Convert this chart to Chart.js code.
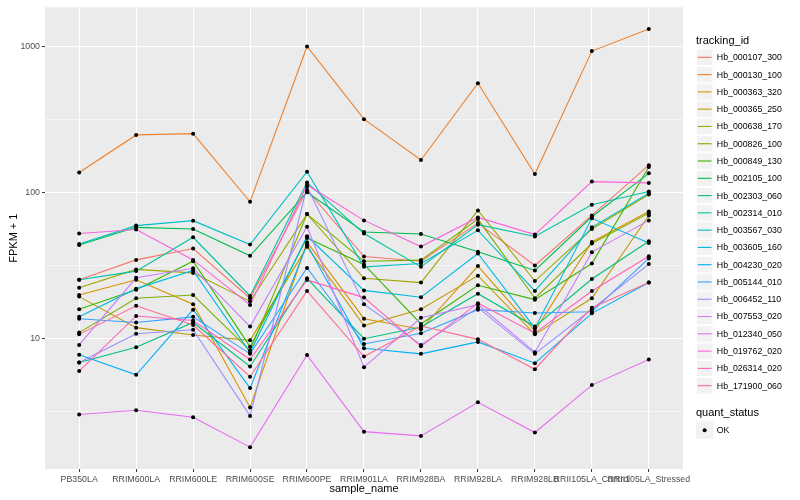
<!DOCTYPE html>
<html>
<head>
<meta charset="utf-8">
<script src="https://cdn.jsdelivr.net/npm/chart.js@4.4.0/dist/chart.umd.min.js"></script>
<style>
html,body{margin:0;padding:0;background:#ffffff;}
#wrap{width:800px;height:500px;position:relative;}
</style>
</head>
<body>
<div id="wrap"><canvas id="c" width="800" height="500"></canvas></div>
<script>
// ---- data (FPKM + 1) ----
const categories = ["PB350LA","RRIM600LA","RRIM600LE","RRIM600SE","RRIM600PE","RRIM901LA","RRIM928BA","RRIM928LA","RRIM928LB","RRII105LA_Control","RRII105LA_Stressed"];
const trackingIds = ["Hb_000107_300","Hb_000130_100","Hb_000363_320","Hb_000365_250","Hb_000638_170","Hb_000826_100","Hb_000849_130","Hb_002105_100","Hb_002303_060","Hb_002314_010","Hb_003567_030","Hb_003605_160","Hb_004230_020","Hb_005144_010","Hb_006452_110","Hb_007553_020","Hb_012340_050","Hb_019762_020","Hb_026314_020","Hb_171900_060"];
const seriesColors = ["#F8766D","#EA8331","#D89000","#C09B00","#A3A500","#7CAE00","#39B600","#00BB4E","#00BF7D","#00C1A3","#00BFC4","#00BAE0","#00B0F6","#35A2FF","#9590FF","#C77CFF","#E76BF3","#FA62DB","#FF62BC","#FF6C91"];

const hb_000107_300 = [25.3, 34.6, 41.4, 18.9, 104.3, 36.5, 33.9, 61.8, 31.7, 69.7, 154];
const hb_000130_100 = [137, 248, 253, 86.5, 1000, 318, 167, 560, 134, 929, 1318];
const hb_000363_320 = [19.9, 25.3, 17.2, 3.38, 45.7, 13.7, 11.6, 31.4, 11.3, 45.9, 74.3];
const hb_000365_250 = [19.4, 11.9, 10.6, 9.74, 42.5, 12.3, 15.9, 27.0, 10.7, 18.9, 69.7];
const hb_000638_170 = [22.3, 29.8, 28.2, 18.0, 71.2, 25.9, 24.2, 75.4, 24.8, 56.3, 96.9];
const hb_000826_100 = [11.0, 18.9, 19.9, 8.29, 71.2, 33.9, 34.5, 65.8, 18.9, 44.8, 72.3];
const hb_000849_130 = [15.9, 21.6, 33.9, 8.82, 48.9, 32.2, 12.6, 23.2, 18.5, 32.7, 149.6];
const hb_002105_100 = [43.8, 57.8, 56.3, 36.9, 100.5, 53.7, 52.0, 39.3, 29.3, 68.3, 135.3];
const hb_002303_060 = [6.87, 8.73, 12.9, 6.45, 25.9, 10.0, 12.0, 20.3, 12.1, 25.6, 46.4];
const hb_002314_010 = [25.3, 29.0, 49.4, 19.6, 117, 52.4, 31.0, 60.3, 50.0, 82.5, 101.6];
const hb_003567_030 = [44.5, 59.4, 64.2, 44.1, 139, 31.0, 32.7, 55.1, 21.2, 57.8, 98.9];
const hb_003605_160 = [14.1, 22.0, 29.3, 8.03, 50.2, 21.4, 19.2, 38.3, 11.8, 66.6, 45.2];
const hb_004230_020 = [7.75, 5.66, 15.8, 4.59, 44.1, 8.59, 7.87, 9.50, 6.79, 14.9, 24.2];
const hb_005144_010 = [13.7, 12.9, 14.1, 7.87, 30.5, 9.20, 10.9, 15.8, 15.0, 15.3, 35.4];
const hb_006452_110 = [6.87, 10.8, 11.5, 2.96, 110, 17.2, 9.06, 16.3, 7.87, 15.9, 32.4];
const hb_007553_020 = [9.06, 26.1, 30.3, 12.1, 58.4, 6.38, 13.9, 17.1, 8.07, 39.1, 64.5];
const hb_012340_050 = [3.03, 3.24, 2.90, 1.81, 7.74, 2.31, 2.16, 3.67, 2.28, 4.81, 7.2];
const hb_019762_020 = [52.4, 55.8, 34.6, 17.0, 112.8, 64.5, 42.7, 67.6, 51.6, 118.8, 116.4];
const hb_026314_020 = [6.0, 14.3, 13.3, 7.20, 25.2, 19.1, 8.86, 17.5, 10.9, 21.2, 36.7];
const hb_171900_060 = [10.7, 16.8, 12.4, 5.49, 21.2, 7.54, 12.2, 9.89, 6.18, 16.3, 24.2];

const yMajorTicks = [10, 100, 1000];
const yMinorTicks = [3.1623, 31.623, 316.23];
const quantStatus = ["OK"];

const seriesValues = [hb_000107_300, hb_000130_100, hb_000363_320, hb_000365_250, hb_000638_170,
  hb_000826_100, hb_000849_130, hb_002105_100, hb_002303_060, hb_002314_010, hb_003567_030,
  hb_003605_160, hb_004230_020, hb_005144_010, hb_006452_110, hb_007553_020, hb_012340_050,
  hb_019762_020, hb_026314_020, hb_171900_060];

// ---- chart ----
const FONT = "'Liberation Sans', Arial, Helvetica, sans-serif";
const isMajor = v => yMajorTicks.some(m => Math.abs(m - v) / m < 1e-6);

const lineDatasets = seriesValues.map((vals, i) => ({
  type: 'line',
  label: trackingIds[i],
  data: vals.map((v, j) => ({x: j, y: v})),
  borderColor: seriesColors[i],
  backgroundColor: seriesColors[i],
  borderWidth: 1.1,
  pointRadius: 0,
  tension: 0,
  fill: false,
  order: 100 - i
}));
const pointData = [];
seriesValues.forEach(vals => vals.forEach((v, j) => pointData.push({x: j, y: v})));
const pointDataset = {
  type: 'scatter',
  label: quantStatus[0],
  data: pointData,
  showLine: false,
  pointRadius: 2,
  pointBackgroundColor: '#000000',
  pointBorderColor: '#000000',
  pointBorderWidth: 0,
  order: 0
};

const panelBg = {
  id: 'panelBg',
  beforeDraw(chart) {
    const {ctx, chartArea: a} = chart;
    ctx.save();
    ctx.fillStyle = '#EBEBEB';
    ctx.fillRect(a.left, a.top, a.right - a.left, a.bottom - a.top);
    ctx.restore();
  }
};

const ggLegend = {
  id: 'ggLegend',
  afterDraw(chart) {
    const ctx = chart.ctx;
    ctx.save();
    const kx = 696, kw = 17.28, kh = 17.28;
    ctx.fillStyle = '#000';
    ctx.textBaseline = 'middle';
    ctx.textAlign = 'left';
    ctx.font = "11px " + FONT;
    ctx.fillText('tracking_id', kx, 40.7);
    const y0 = 48.7;
    ctx.font = "8.8px " + FONT;
    trackingIds.forEach((id, i) => {
      const ky = y0 + i * kh;
      ctx.fillStyle = '#F2F2F2';
      ctx.fillRect(kx, ky, kw, kh);
      ctx.strokeStyle = '#FFFFFF';
      ctx.lineWidth = 1;
      ctx.strokeRect(kx + 0.5, ky + 0.5, kw - 1, kh - 1);
      ctx.strokeStyle = seriesColors[i];
      ctx.lineWidth = 1.1;
      ctx.beginPath();
      ctx.moveTo(kx + 1.7, ky + kh / 2);
      ctx.lineTo(kx + kw - 1.7, ky + kh / 2);
      ctx.stroke();
      ctx.fillStyle = '#000';
      ctx.fillText(id, kx + kw + 3.5, ky + kh / 2 + 0.5);
    });
    // quant_status legend
    ctx.font = "11px " + FONT;
    ctx.fillStyle = '#000';
    ctx.fillText('quant_status', kx, 412.7);
    const qy = 421.5;
    ctx.fillStyle = '#F2F2F2';
    ctx.fillRect(kx, qy, kw, kh);
    ctx.fillStyle = '#000';
    ctx.beginPath();
    ctx.arc(kx + kw / 2, qy + kh / 2, 2, 0, Math.PI * 2);
    ctx.fill();
    ctx.font = "8.8px " + FONT;
    ctx.fillText(quantStatus[0], kx + kw + 3.5, qy + kh / 2 + 0.5);
    ctx.restore();
  }
};

new Chart(document.getElementById('c'), {
  data: { datasets: [...lineDatasets, pointDataset] },
  options: {
    responsive: false,
    animation: false,
    events: [],
    layout: { padding: { top: 5, right: 117, bottom: 0, left: 0 } },
    plugins: { legend: { display: false }, tooltip: { enabled: false }, title: { display: false } },
    scales: {
      x: {
        type: 'linear',
        min: -0.6,
        max: 10.6,
        afterBuildTicks: s => { s.ticks = categories.map((c, i) => ({value: i})); },
        afterFit: s => { s.height = 31; },
        ticks: {
          autoSkip: false, maxRotation: 0, minRotation: 0,
          callback: v => categories[v],
          color: '#4D4D4D',
          font: { size: 8.8, family: FONT },
          padding: 2
        },
        grid: { color: '#FFFFFF', lineWidth: 1.1, drawTicks: true, tickLength: 3, tickColor: '#333333', tickWidth: 1 },
        border: { display: false },
        title: { display: true, text: 'sample_name', color: '#000000', font: { size: 11, family: FONT }, padding: { top: 0, bottom: 4 } }
      },
      y: {
        type: 'logarithmic',
        min: Math.pow(10, 0.108),
        max: Math.pow(10, 3.268),
        afterBuildTicks: s => {
          s.ticks = [...yMinorTicks, ...yMajorTicks].sort((a, b) => a - b).map(v => ({value: v, major: isMajor(v)}));
        },
        afterFit: s => { s.width = 45; },
        ticks: {
          autoSkip: false,
          callback: v => isMajor(v) ? String(Math.round(v)) : '',
          color: '#4D4D4D',
          font: { size: 8.8, family: FONT },
          padding: 2
        },
        grid: {
          color: '#FFFFFF',
          lineWidth: c => (c.tick && isMajor(c.tick.value)) ? 1.1 : 0.55,
          drawTicks: true,
          tickLength: 3,
          tickWidth: 1,
          tickColor: c => (c.tick && isMajor(c.tick.value)) ? '#333333' : 'rgba(0,0,0,0)'
        },
        border: { display: false },
        title: { display: true, text: 'FPKM + 1', color: '#000000', font: { size: 11, family: FONT }, padding: { top: 7, bottom: 0 } }
      }
    }
  },
  plugins: [panelBg, ggLegend]
});
</script>
</body>
</html>
